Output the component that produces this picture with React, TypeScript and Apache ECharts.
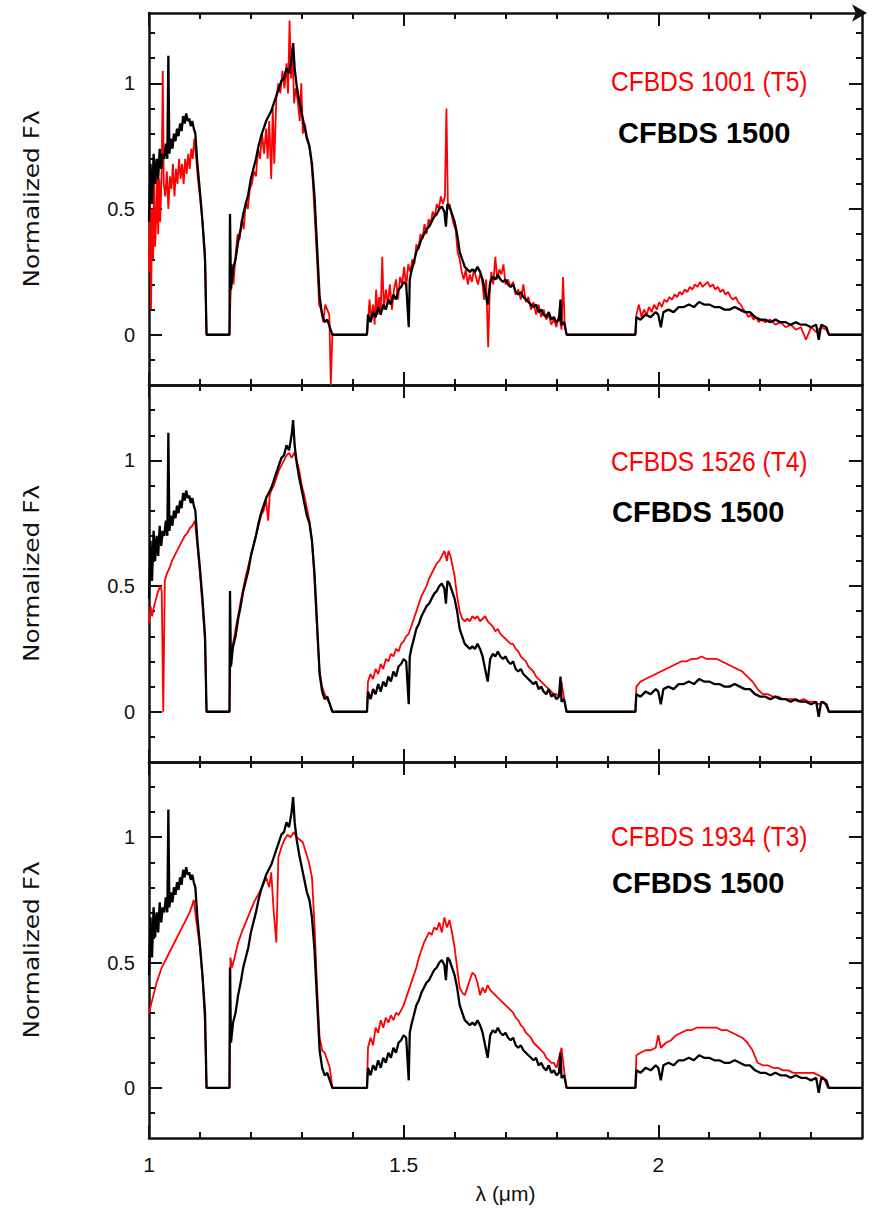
import React, { useEffect, useRef } from "react";
import * as echarts from "echarts";

// ---- tick positions ----
const xMajorTicks = [1, 1.5, 2];
const xMinorTicks = [1.1, 1.2, 1.3, 1.4, 1.6, 1.7, 1.8, 1.9, 2.1, 2.2, 2.3];
const yMajorTicks = [0, 0.5, 1];
const yMinorTicks = [-0.1, 0.1, 0.2, 0.3, 0.4, 0.6, 0.7, 0.8, 0.9, 1.1, 1.2];

// ---- labels ----
const comparisonNames = ["CFBDS 1001 (T5)", "CFBDS 1526 (T4)", "CFBDS 1934 (T3)"];
const referenceName = "CFBDS 1500";
const yTitle = "Normalized Fλ";
const xTitle = "λ (μm)";

// ---- CFBDS 1500 (black, same in every panel): [lambda, flux] ----
const cfbds1500: number[][] = [
  [1.0, 0.45], [1.003, 0.68], [1.006, 0.52], [1.009, 0.72], [1.012, 0.6], [1.015, 0.7], [1.018, 0.62],
  [1.021, 0.74], [1.024, 0.66], [1.027, 0.72], [1.03, 0.7], [1.033, 0.76], [1.036, 0.7], [1.038, 1.11],
  [1.04, 0.72], [1.043, 0.78], [1.046, 0.74], [1.049, 0.8], [1.052, 0.77], [1.055, 0.82], [1.058, 0.79],
  [1.061, 0.84], [1.064, 0.81], [1.067, 0.87], [1.07, 0.84], [1.073, 0.88], [1.076, 0.85], [1.079, 0.86],
  [1.082, 0.83], [1.085, 0.85], [1.088, 0.82], [1.091, 0.8], [1.095, 0.68], [1.1, 0.57], [1.105, 0.45],
  [1.11, 0.3], [1.113, 0], [1.158, 0], [1.159, 0.48], [1.161, 0.18], [1.165, 0.26], [1.17, 0.3],
  [1.175, 0.37], [1.18, 0.42], [1.185, 0.48], [1.19, 0.52], [1.195, 0.56], [1.2, 0.62], [1.205, 0.66],
  [1.21, 0.7], [1.215, 0.75], [1.22, 0.79], [1.225, 0.82], [1.23, 0.85], [1.235, 0.87], [1.24, 0.89],
  [1.245, 0.92], [1.25, 0.95], [1.255, 0.98], [1.26, 1.01], [1.265, 1.02], [1.27, 1.06], [1.275, 1.04],
  [1.28, 1.1], [1.283, 1.16], [1.286, 1.06], [1.29, 0.99], [1.295, 0.93], [1.3, 0.88], [1.305, 0.83],
  [1.31, 0.78], [1.315, 0.75], [1.32, 0.68], [1.325, 0.55], [1.33, 0.35], [1.335, 0.15], [1.34, 0.08],
  [1.345, 0.05], [1.35, 0.06], [1.355, 0.03], [1.36, 0], [1.428, 0], [1.43, 0.08], [1.435, 0.05],
  [1.44, 0.09], [1.445, 0.07], [1.45, 0.11], [1.455, 0.08], [1.46, 0.12], [1.465, 0.1], [1.47, 0.14],
  [1.475, 0.12], [1.48, 0.16], [1.485, 0.14], [1.49, 0.18], [1.495, 0.19], [1.5, 0.21], [1.505, 0.2],
  [1.51, 0.03], [1.512, 0.22], [1.515, 0.25], [1.52, 0.29], [1.525, 0.33], [1.53, 0.35], [1.535, 0.38],
  [1.54, 0.4], [1.545, 0.42], [1.55, 0.43], [1.555, 0.45], [1.56, 0.47], [1.565, 0.48], [1.57, 0.5],
  [1.575, 0.51], [1.58, 0.49], [1.583, 0.43], [1.586, 0.52], [1.59, 0.51], [1.595, 0.48], [1.6, 0.45],
  [1.605, 0.4], [1.61, 0.33], [1.615, 0.3], [1.62, 0.27], [1.625, 0.26], [1.63, 0.25], [1.635, 0.26],
  [1.64, 0.25], [1.645, 0.27], [1.65, 0.25], [1.655, 0.22], [1.665, 0.12], [1.67, 0.21], [1.675, 0.23],
  [1.68, 0.22], [1.685, 0.24], [1.69, 0.22], [1.695, 0.21], [1.7, 0.22], [1.705, 0.2], [1.71, 0.19],
  [1.715, 0.2], [1.72, 0.17], [1.725, 0.16], [1.73, 0.17], [1.735, 0.15], [1.74, 0.14], [1.745, 0.13],
  [1.75, 0.12], [1.755, 0.11], [1.76, 0.12], [1.765, 0.09], [1.77, 0.1], [1.775, 0.08], [1.78, 0.07],
  [1.785, 0.09], [1.79, 0.06], [1.795, 0.07], [1.8, 0.05], [1.805, 0.06], [1.808, 0.14], [1.81, 0.04],
  [1.815, 0.05], [1.82, 0], [1.955, 0], [1.957, 0.07], [1.965, 0.06], [1.975, 0.08], [1.985, 0.07],
  [1.995, 0.09], [2.0, 0.08], [2.005, 0.03], [2.01, 0.09], [2.02, 0.1], [2.03, 0.09], [2.04, 0.11],
  [2.05, 0.11], [2.06, 0.12], [2.07, 0.11], [2.08, 0.13], [2.09, 0.12], [2.1, 0.12], [2.11, 0.11],
  [2.12, 0.11], [2.13, 0.1], [2.14, 0.1], [2.15, 0.11], [2.16, 0.1], [2.17, 0.09], [2.18, 0.09],
  [2.19, 0.07], [2.2, 0.06], [2.21, 0.06], [2.22, 0.05], [2.23, 0.06], [2.24, 0.05], [2.25, 0.05],
  [2.26, 0.04], [2.27, 0.05], [2.28, 0.04], [2.29, 0.04], [2.3, 0.03], [2.31, 0.04], [2.315, -0.02],
  [2.32, 0.04], [2.33, 0.03], [2.335, 0], [2.4, 0],
];

// ---- CFBDS 1001 (T5), red, top panel ----
const cfbds1001: number[][] = [
  [1.0, 0.25], [1.002, 0.55], [1.004, 0.1], [1.006, 0.5], [1.008, 0.3], [1.01, 0.6], [1.012, 0.35],
  [1.014, 0.45], [1.016, 0.7], [1.018, 0.4], [1.02, 0.62], [1.022, 0.45], [1.025, 0.66], [1.027, 1.05],
  [1.029, 0.6], [1.032, 0.55], [1.035, 0.65], [1.038, 0.5], [1.041, 0.63], [1.044, 0.58], [1.047, 0.68],
  [1.05, 0.55], [1.053, 0.66], [1.056, 0.6], [1.059, 0.7], [1.062, 0.62], [1.065, 0.68], [1.068, 0.6],
  [1.071, 0.7], [1.074, 0.64], [1.077, 0.72], [1.08, 0.66], [1.083, 0.74], [1.086, 0.7], [1.089, 0.78],
  [1.092, 0.72], [1.096, 0.62], [1.1, 0.55], [1.105, 0.45], [1.11, 0.32], [1.113, 0], [1.158, 0],
  [1.16, 0.15], [1.163, 0.28], [1.166, 0.2], [1.17, 0.32], [1.174, 0.4], [1.178, 0.38], [1.182, 0.46],
  [1.186, 0.42], [1.19, 0.53], [1.194, 0.5], [1.198, 0.58], [1.202, 0.6], [1.206, 0.65], [1.21, 0.63],
  [1.214, 0.74], [1.218, 0.7], [1.222, 0.8], [1.226, 0.72], [1.23, 0.82], [1.233, 0.7], [1.236, 0.85],
  [1.24, 0.62], [1.243, 0.9], [1.246, 0.68], [1.25, 0.94], [1.254, 1.0], [1.258, 0.96], [1.262, 1.05],
  [1.266, 0.98], [1.27, 1.08], [1.273, 0.96], [1.276, 1.25], [1.279, 1.02], [1.282, 1.12], [1.285, 0.92],
  [1.288, 0.98], [1.292, 0.93], [1.296, 0.85], [1.299, 1.0], [1.302, 0.8], [1.306, 0.84], [1.31, 0.79],
  [1.314, 0.76], [1.318, 0.7], [1.322, 0.6], [1.326, 0.45], [1.33, 0.3], [1.334, 0.12], [1.338, 0.1],
  [1.342, 0.05], [1.346, 0.12], [1.35, 0.1], [1.354, 0.08], [1.357, -0.2], [1.36, 0], [1.428, 0],
  [1.43, 0.05], [1.433, 0.14], [1.436, 0.06], [1.44, 0.12], [1.443, 0.04], [1.446, 0.18], [1.449, 0.08],
  [1.452, 0.15], [1.455, 0.1], [1.458, 0.31], [1.461, 0.1], [1.465, 0.18], [1.469, 0.12], [1.473, 0.2],
  [1.477, 0.1], [1.481, 0.18], [1.485, 0.22], [1.489, 0.14], [1.493, 0.23], [1.497, 0.2], [1.501, 0.27],
  [1.505, 0.19], [1.509, 0.28], [1.513, 0.25], [1.517, 0.3], [1.521, 0.28], [1.525, 0.36], [1.529, 0.34],
  [1.533, 0.4], [1.537, 0.38], [1.541, 0.44], [1.545, 0.4], [1.549, 0.46], [1.553, 0.44], [1.557, 0.49],
  [1.561, 0.47], [1.565, 0.52], [1.569, 0.5], [1.573, 0.55], [1.577, 0.52], [1.581, 0.55], [1.584, 0.9],
  [1.587, 0.5], [1.59, 0.52], [1.594, 0.48], [1.598, 0.44], [1.602, 0.42], [1.606, 0.33], [1.61, 0.3],
  [1.614, 0.25], [1.618, 0.22], [1.622, 0.26], [1.626, 0.2], [1.63, 0.24], [1.634, 0.21], [1.638, 0.26],
  [1.642, 0.23], [1.646, 0.2], [1.65, 0.24], [1.654, 0.22], [1.658, 0.14], [1.662, 0.22], [1.666, -0.05],
  [1.669, 0.17], [1.672, 0.25], [1.676, 0.2], [1.68, 0.31], [1.684, 0.22], [1.688, 0.26], [1.692, 0.24],
  [1.696, 0.28], [1.7, 0.2], [1.705, 0.22], [1.71, 0.19], [1.715, 0.21], [1.72, 0.16], [1.725, 0.18],
  [1.73, 0.14], [1.735, 0.2], [1.74, 0.13], [1.745, 0.15], [1.75, 0.1], [1.755, 0.13], [1.76, 0.08],
  [1.765, 0.12], [1.77, 0.07], [1.775, 0.1], [1.78, 0.06], [1.785, 0.08], [1.79, 0.04], [1.795, 0.06],
  [1.8, 0.03], [1.805, 0.08], [1.81, 0.02], [1.813, 0.23], [1.816, 0.05], [1.82, 0], [1.955, 0],
  [1.957, 0.08], [1.962, 0.12], [1.967, 0.07], [1.972, 0.1], [1.977, 0.08], [1.982, 0.11], [1.987, 0.09],
  [1.992, 0.12], [1.997, 0.1], [2.002, 0.13], [2.007, 0.11], [2.012, 0.14], [2.017, 0.13], [2.022, 0.15],
  [2.027, 0.14], [2.032, 0.16], [2.037, 0.15], [2.042, 0.17], [2.047, 0.16], [2.052, 0.18], [2.057, 0.17],
  [2.062, 0.19], [2.067, 0.18], [2.072, 0.2], [2.077, 0.19], [2.082, 0.21], [2.087, 0.19], [2.092, 0.2],
  [2.097, 0.21], [2.102, 0.19], [2.107, 0.2], [2.112, 0.18], [2.117, 0.19], [2.122, 0.17], [2.127, 0.18],
  [2.132, 0.16], [2.137, 0.17], [2.142, 0.15], [2.147, 0.14], [2.152, 0.15], [2.157, 0.13], [2.162, 0.12],
  [2.167, 0.1], [2.172, 0.09], [2.177, 0.07], [2.182, 0.08], [2.187, 0.06], [2.192, 0.07], [2.197, 0.05],
  [2.202, 0.06], [2.21, 0.05], [2.22, 0.06], [2.23, 0.04], [2.24, 0.05], [2.25, 0.03], [2.26, 0.04],
  [2.27, 0.02], [2.28, 0.03], [2.29, -0.02], [2.3, 0.03], [2.31, 0.01], [2.32, 0.03], [2.33, 0.02],
  [2.335, 0], [2.4, 0],
];

// ---- CFBDS 1526 (T4), red, middle panel ----
const cfbds1526: number[][] = [
  [1.0, 0.35], [1.003, 0.42], [1.006, 0.38], [1.01, 0.42], [1.014, 0.45], [1.018, 0.48], [1.022, 0.5],
  [1.025, 0.48], [1.028, 0.0], [1.031, 0.52], [1.035, 0.55], [1.04, 0.57], [1.045, 0.6], [1.05, 0.62],
  [1.055, 0.64], [1.06, 0.66], [1.065, 0.68], [1.07, 0.7], [1.075, 0.71], [1.08, 0.73], [1.085, 0.74],
  [1.09, 0.76], [1.095, 0.66], [1.1, 0.55], [1.105, 0.42], [1.11, 0.28], [1.113, 0], [1.158, 0],
  [1.16, 0.22], [1.165, 0.27], [1.17, 0.33], [1.175, 0.38], [1.18, 0.44], [1.185, 0.49], [1.19, 0.54],
  [1.195, 0.58], [1.2, 0.62], [1.205, 0.66], [1.21, 0.7], [1.215, 0.74], [1.22, 0.78], [1.225, 0.8],
  [1.23, 0.84], [1.234, 0.76], [1.237, 0.86], [1.24, 0.88], [1.245, 0.9], [1.25, 0.93], [1.255, 0.96],
  [1.26, 0.98], [1.265, 1.0], [1.27, 1.02], [1.275, 1.03], [1.28, 1.01], [1.285, 1.03], [1.29, 1.0],
  [1.295, 0.96], [1.3, 0.9], [1.305, 0.86], [1.31, 0.81], [1.315, 0.76], [1.32, 0.68], [1.325, 0.52],
  [1.33, 0.32], [1.335, 0.16], [1.34, 0.1], [1.345, 0.07], [1.35, 0.05], [1.355, 0.03], [1.36, 0],
  [1.428, 0], [1.43, 0.12], [1.435, 0.15], [1.44, 0.13], [1.445, 0.17], [1.45, 0.15], [1.455, 0.19],
  [1.46, 0.17], [1.465, 0.21], [1.47, 0.2], [1.475, 0.23], [1.48, 0.22], [1.485, 0.25], [1.49, 0.24],
  [1.495, 0.27], [1.5, 0.28], [1.505, 0.3], [1.51, 0.31], [1.515, 0.34], [1.52, 0.37], [1.525, 0.4],
  [1.53, 0.43], [1.535, 0.46], [1.54, 0.48], [1.545, 0.5], [1.55, 0.53], [1.555, 0.55], [1.56, 0.57],
  [1.565, 0.59], [1.57, 0.6], [1.575, 0.62], [1.58, 0.64], [1.585, 0.6], [1.588, 0.64], [1.592, 0.62],
  [1.596, 0.58], [1.6, 0.54], [1.605, 0.46], [1.61, 0.4], [1.615, 0.37], [1.62, 0.36], [1.625, 0.37],
  [1.63, 0.36], [1.635, 0.38], [1.64, 0.37], [1.645, 0.38], [1.65, 0.36], [1.655, 0.37], [1.66, 0.38],
  [1.665, 0.36], [1.67, 0.35], [1.675, 0.34], [1.68, 0.32], [1.685, 0.33], [1.69, 0.31], [1.695, 0.3],
  [1.7, 0.29], [1.705, 0.28], [1.71, 0.27], [1.715, 0.27], [1.72, 0.25], [1.725, 0.24], [1.73, 0.22],
  [1.735, 0.21], [1.74, 0.2], [1.745, 0.18], [1.75, 0.17], [1.755, 0.16], [1.76, 0.14], [1.765, 0.13],
  [1.77, 0.12], [1.775, 0.11], [1.78, 0.1], [1.785, 0.09], [1.79, 0.08], [1.795, 0.07], [1.8, 0.07],
  [1.805, 0.06], [1.81, 0.12], [1.815, 0.05], [1.82, 0], [1.955, 0], [1.957, 0.1], [1.965, 0.12],
  [1.975, 0.13], [1.985, 0.14], [1.995, 0.15], [2.005, 0.16], [2.015, 0.17], [2.025, 0.18], [2.035, 0.19],
  [2.045, 0.2], [2.055, 0.2], [2.065, 0.21], [2.075, 0.21], [2.085, 0.22], [2.095, 0.21], [2.105, 0.21],
  [2.115, 0.21], [2.125, 0.2], [2.135, 0.19], [2.145, 0.18], [2.155, 0.17], [2.165, 0.16], [2.175, 0.14],
  [2.185, 0.12], [2.195, 0.09], [2.205, 0.07], [2.215, 0.07], [2.225, 0.06], [2.235, 0.06], [2.245, 0.05],
  [2.255, 0.05], [2.265, 0.05], [2.275, 0.04], [2.285, 0.05], [2.295, 0.04], [2.305, 0.04], [2.315, 0.03],
  [2.325, 0.04], [2.335, 0], [2.4, 0],
];

// ---- CFBDS 1934 (T3), red, bottom panel ----
const cfbds1934: number[][] = [
  [1.0, 0.3], [1.005, 0.34], [1.01, 0.38], [1.015, 0.42], [1.02, 0.45], [1.025, 0.48], [1.03, 0.5],
  [1.035, 0.52], [1.04, 0.54], [1.045, 0.56], [1.05, 0.58], [1.055, 0.6], [1.06, 0.62], [1.065, 0.64],
  [1.07, 0.66], [1.075, 0.68], [1.08, 0.7], [1.085, 0.73], [1.088, 0.75], [1.092, 0.68], [1.096, 0.62],
  [1.1, 0.56], [1.105, 0.44], [1.11, 0.25], [1.113, 0], [1.158, 0], [1.16, 0.52], [1.163, 0.48],
  [1.168, 0.52], [1.175, 0.58], [1.182, 0.62], [1.19, 0.66], [1.198, 0.7], [1.206, 0.74], [1.214, 0.77],
  [1.222, 0.8], [1.23, 0.84], [1.236, 0.8], [1.24, 0.86], [1.245, 0.7], [1.25, 0.58], [1.254, 0.92],
  [1.26, 0.96], [1.266, 0.99], [1.272, 1.01], [1.278, 1.0], [1.284, 1.02], [1.29, 1.0], [1.296, 0.99],
  [1.302, 0.98], [1.308, 0.94], [1.314, 0.9], [1.32, 0.84], [1.325, 0.65], [1.33, 0.4], [1.335, 0.2],
  [1.34, 0.15], [1.345, 0.14], [1.35, 0.11], [1.355, 0.08], [1.36, 0], [1.428, 0], [1.43, 0.16],
  [1.435, 0.2], [1.44, 0.17], [1.445, 0.24], [1.45, 0.22], [1.455, 0.27], [1.46, 0.24], [1.465, 0.28],
  [1.47, 0.26], [1.475, 0.29], [1.48, 0.27], [1.485, 0.3], [1.49, 0.29], [1.495, 0.31], [1.5, 0.33],
  [1.505, 0.36], [1.51, 0.39], [1.515, 0.42], [1.52, 0.45], [1.525, 0.48], [1.53, 0.52], [1.535, 0.55],
  [1.54, 0.58], [1.545, 0.6], [1.55, 0.62], [1.555, 0.61], [1.56, 0.64], [1.565, 0.63], [1.57, 0.66],
  [1.575, 0.62], [1.58, 0.68], [1.585, 0.64], [1.59, 0.67], [1.595, 0.62], [1.6, 0.56], [1.605, 0.48],
  [1.61, 0.4], [1.615, 0.38], [1.62, 0.37], [1.625, 0.4], [1.63, 0.43], [1.635, 0.46], [1.64, 0.45],
  [1.645, 0.42], [1.65, 0.37], [1.655, 0.4], [1.66, 0.38], [1.665, 0.41], [1.67, 0.39], [1.675, 0.38],
  [1.68, 0.37], [1.685, 0.36], [1.69, 0.35], [1.695, 0.34], [1.7, 0.33], [1.705, 0.32], [1.71, 0.31],
  [1.715, 0.3], [1.72, 0.28], [1.725, 0.27], [1.73, 0.25], [1.735, 0.24], [1.74, 0.22], [1.745, 0.21],
  [1.75, 0.2], [1.755, 0.18], [1.76, 0.17], [1.765, 0.16], [1.77, 0.15], [1.775, 0.14], [1.78, 0.12],
  [1.785, 0.11], [1.79, 0.1], [1.795, 0.1], [1.8, 0.08], [1.805, 0.12], [1.81, 0.16], [1.815, 0.07],
  [1.82, 0], [1.955, 0], [1.957, 0.13], [1.965, 0.14], [1.975, 0.15], [1.985, 0.15], [1.995, 0.16],
  [2.0, 0.21], [2.005, 0.16], [2.015, 0.18], [2.025, 0.19], [2.035, 0.21], [2.045, 0.22], [2.055, 0.23],
  [2.065, 0.23], [2.075, 0.24], [2.085, 0.24], [2.095, 0.24], [2.105, 0.24], [2.115, 0.24], [2.125, 0.23],
  [2.135, 0.23], [2.145, 0.22], [2.155, 0.21], [2.165, 0.2], [2.175, 0.18], [2.185, 0.15], [2.195, 0.1],
  [2.205, 0.09], [2.215, 0.09], [2.225, 0.08], [2.235, 0.08], [2.245, 0.07], [2.255, 0.07], [2.265, 0.06],
  [2.275, 0.06], [2.285, 0.06], [2.295, 0.06], [2.305, 0.06], [2.315, 0.05], [2.325, 0.04], [2.333, 0],
  [2.4, 0],
];

const comparisonSpectra = [cfbds1001, cfbds1526, cfbds1934];
const yMaxByPanel = [1.28, 1.3, 1.3];

export default function App() {
  const ref = useRef<HTMLDivElement>(null);

  useEffect(() => {
    if (!ref.current) return;
    const chart = echarts.init(ref.current, undefined, { renderer: "svg" });

    const frame = "#111";
    const font = "'Liberation Sans', Arial, Helvetica, sans-serif";
    const wideFont = "'DejaVu Sans', Verdana, sans-serif";
    const plotLeft = 149;
    const plotRight = 12;
    const panels = [
      { top: 13, height: 372 },
      { top: 385, height: 377 },
      { top: 762, height: 376 },
    ];

    const grid: any[] = [];
    const xAxis: any[] = [];
    const yAxis: any[] = [];
    const series: any[] = [];
    const graphic: any[] = [];

    panels.forEach((p, i) => {
      grid.push({ left: plotLeft, right: plotRight, top: p.top, height: p.height });
      const isLast = i === panels.length - 1;
      const xBase = { type: "value", gridIndex: i, min: 1, max: 2.4, splitLine: { show: false } };
      const yBase = { type: "value", gridIndex: i, min: -0.2, max: yMaxByPanel[i], splitLine: { show: false } };

      const xMainIdx = xAxis.length;
      xAxis.push({
        ...xBase,
        position: "bottom",
        axisLine: { show: true, onZero: false, lineStyle: { color: frame, width: 2.5 } },
        axisTick: { show: true, inside: true, length: 13, customValues: xMajorTicks, lineStyle: { color: frame, width: 2 } },
        axisLabel: {
          show: isLast,
          customValues: xMajorTicks,
          margin: 16,
          fontSize: 21,
          color: "#111",
          fontFamily: font,
          formatter: (v: number) => String(v),
        },
        name: isLast ? xTitle : "",
        nameLocation: "middle",
        nameGap: 45,
        nameTextStyle: { fontSize: 21, color: "#111", fontFamily: font },
      });
      xAxis.push({
        ...xBase,
        position: "bottom",
        axisLine: { show: false, onZero: false },
        axisTick: { show: true, inside: true, length: 6, customValues: xMinorTicks, lineStyle: { color: frame, width: 2 } },
        axisLabel: { show: false },
      });
      xAxis.push({
        ...xBase,
        position: "top",
        axisLine: {
          show: true,
          onZero: false,
          lineStyle: { color: frame, width: 2.5 },
          symbol: i === 0 ? ["none", "arrow"] : ["none", "none"],
          symbolSize: [13, 15],
          symbolOffset: [0, 5],
        },
        axisTick: { show: true, inside: true, length: 13, customValues: xMajorTicks, lineStyle: { color: frame, width: 2 } },
        axisLabel: { show: false },
      });
      xAxis.push({
        ...xBase,
        position: "top",
        axisLine: { show: false, onZero: false },
        axisTick: { show: true, inside: true, length: 6, customValues: xMinorTicks, lineStyle: { color: frame, width: 2 } },
        axisLabel: { show: false },
      });

      const yMainIdx = yAxis.length;
      yAxis.push({
        ...yBase,
        position: "left",
        axisLine: { show: true, onZero: false, lineStyle: { color: frame, width: 2.5 } },
        axisTick: { show: true, inside: true, length: 13, customValues: yMajorTicks, lineStyle: { color: frame, width: 2 } },
        axisLabel: {
          show: true,
          customValues: yMajorTicks,
          margin: 14,
          fontSize: 20,
          color: "#111",
          fontFamily: font,
          formatter: (v: number) => String(v),
        },
      });
      yAxis.push({
        ...yBase,
        position: "left",
        axisLine: { show: false, onZero: false },
        axisTick: { show: true, inside: true, length: 6, customValues: yMinorTicks, lineStyle: { color: frame, width: 2 } },
        axisLabel: { show: false },
      });
      yAxis.push({
        ...yBase,
        position: "right",
        axisLine: { show: true, onZero: false, lineStyle: { color: frame, width: 2.5 } },
        axisTick: { show: true, inside: true, length: 13, customValues: yMajorTicks, lineStyle: { color: frame, width: 2 } },
        axisLabel: { show: false },
      });
      yAxis.push({
        ...yBase,
        position: "right",
        axisLine: { show: false, onZero: false },
        axisTick: { show: true, inside: true, length: 6, customValues: yMinorTicks, lineStyle: { color: frame, width: 2 } },
        axisLabel: { show: false },
      });

      series.push({
        type: "line",
        name: comparisonNames[i],
        xAxisIndex: xMainIdx,
        yAxisIndex: yMainIdx,
        data: comparisonSpectra[i],
        showSymbol: false,
        symbol: "none",
        lineStyle: { color: "#ff0000", width: 1.8 },
        clip: true,
        z: 2,
      });
      series.push({
        type: "line",
        name: referenceName,
        xAxisIndex: xMainIdx,
        yAxisIndex: yMainIdx,
        data: cfbds1500,
        showSymbol: false,
        symbol: "none",
        lineStyle: { color: "#000", width: 2.3 },
        clip: true,
        z: 3,
      });

      const redY = [82, 462, 837][i];
      const blackY = [133, 512, 883][i];
      const blackX = [618, 612, 612][i];
      graphic.push({
        type: "text",
        x: 611,
        y: redY,
        scaleX: 0.91,
        style: {
          text: comparisonNames[i],
          fill: "#ff0000",
          font: `27px ${font}`,
          align: "left",
          verticalAlign: "middle",
        },
      });
      graphic.push({
        type: "text",
        x: blackX,
        y: blackY,
        style: {
          text: referenceName,
          fill: "#000",
          font: `bold 29px ${font}`,
          align: "left",
          verticalAlign: "middle",
        },
      });
      graphic.push({
        type: "text",
        x: 32,
        y: p.top + p.height / 2,
        rotation: Math.PI / 2,
        scaleX: 1.18,
        style: {
          text: yTitle,
          fill: "#111",
          font: `21px ${wideFont}`,
          align: "center",
          verticalAlign: "middle",
        },
      });
    });

    chart.setOption({
      animation: false,
      backgroundColor: "#fff",
      grid,
      xAxis,
      yAxis,
      series,
      graphic,
    });

    return () => chart.dispose();
  }, []);

  return <div ref={ref} style={{ width: 874, height: 1209, position: "absolute", left: 0, top: 0 }} />;
}
